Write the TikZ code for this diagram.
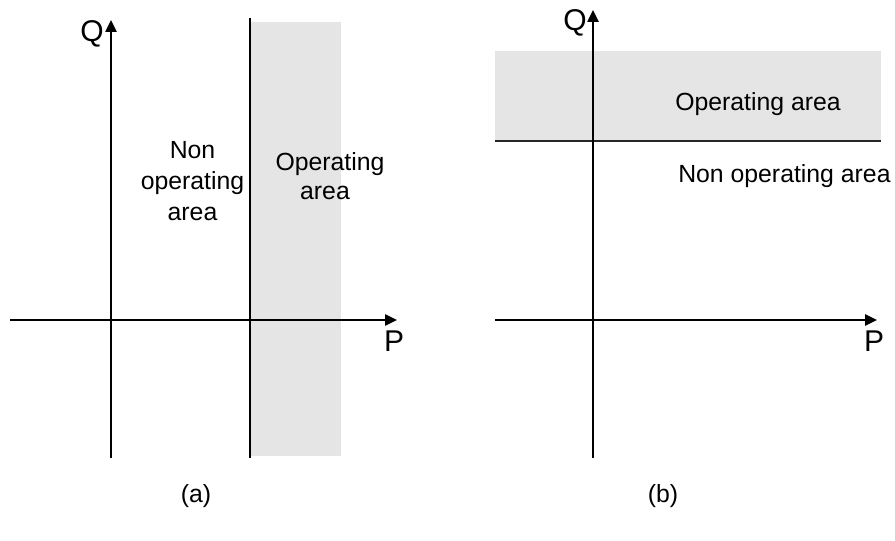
\documentclass[tikz,border=0pt]{standalone}
\usepackage{fontspec}
\setmainfont{Liberation Sans}
\usetikzlibrary{arrows.meta}
\begin{document}
\begin{tikzpicture}[x=0.75pt,y=-0.75pt,
  axis/.style={line width=1.1pt,-{Triangle[length=9pt,width=8.5pt]}},
  plainline/.style={line width=1.3pt},
  region/.style={fill=black!10,draw=none},
  lbl/.style={font=\fontsize{18.6}{22}\selectfont,inner sep=0pt},
  axlbl/.style={font=\fontsize{22.5}{26}\selectfont,inner sep=0pt}]
\useasboundingbox (0,0) rectangle (895,541);
% ---------- panel (a) ----------
\fill[region] (251,22) rectangle (341,456);
\coordinate (aQs) at (111,458);
\coordinate (aQe) at (111,20);
\coordinate (aPs) at (10,320);
\coordinate (aPe) at (397,320);
\coordinate (aDs) at (250,18);
\coordinate (aDe) at (250,458);
\draw[plainline] (aDs) -- (aDe);
\draw[axis] (aPs) -- (aPe);
\draw[axis] (aQs) -- (aQe);
\node[axlbl] (aQ) at (92,34) {Q};
\node[axlbl] (aP) at (394,341) {P};
\node[lbl,anchor=base] (aNon1) at (192.5,159) {Non};
\node[lbl,anchor=base] (aNon2) at (192.5,190) {operating};
\node[lbl,anchor=base] (aNon3) at (192.5,221) {area};
\node[lbl,anchor=base] (aOp1) at (330,171) {Operating};
\node[lbl,anchor=base] (aOp2) at (325,200) {area};
\node[lbl] (acap) at (196,496) {(a)};
% ---------- panel (b) ----------
\fill[region] (495,51) rectangle (881,141);
\coordinate (bLs) at (495,141);
\coordinate (bLe) at (881,141);
\draw[plainline,draw=black!85] (bLs) -- (bLe);
\coordinate (bQs) at (593,458);
\coordinate (bQe) at (593,10);
\coordinate (bPs) at (495,320);
\coordinate (bPe) at (877,320);
\draw[axis] (bPs) -- (bPe);
\draw[axis] (bQs) -- (bQe);
\node[axlbl] (bQ) at (575,23) {Q};
\node[axlbl] (bP) at (874,341) {P};
\node[lbl,anchor=base west] (bOp) at (675,111) {Operating area};
\node[lbl,anchor=base west] (bNon) at (678,183) {Non operating area};
\node[lbl] (bcap) at (663,496) {(b)};
\end{tikzpicture}
\end{document}
